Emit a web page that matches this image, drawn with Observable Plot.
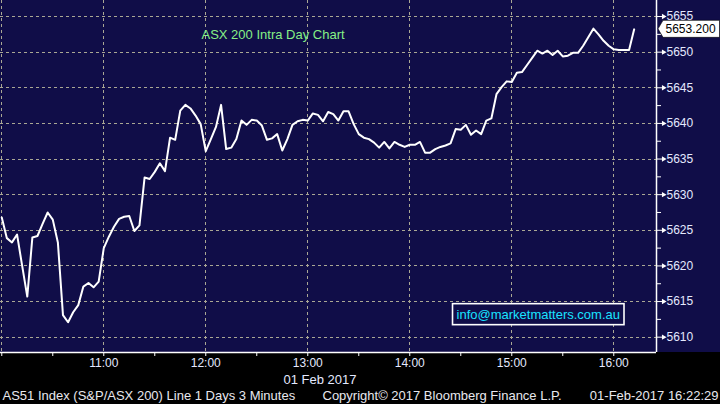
<!DOCTYPE html>
<html>
<head>
<meta charset="utf-8">
<script src="https://cdn.jsdelivr.net/npm/d3@7"></script>
<script src="https://cdn.jsdelivr.net/npm/@observablehq/plot@0.6"></script>
<style>
  html, body { margin: 0; padding: 0; background: #000; }
  #chart svg { display: block; }
</style>
</head>
<body>
<div id="chart"></div>
<script>
// ---- chart text ----
const chartTitle = "ASX 200 Intra Day Chart";
const contactText = "info@marketmatters.com.au";
const dateLabel = "01 Feb 2017";
const footerLeft = "AS51 Index (S&P/ASX 200) Line 1 Days 3 Minutes";
const footerMid = "Copyright\u00A9 2017 Bloomberg Finance L.P.";
const footerRight = "01-Feb-2017 16:22:29";

// ---- data: 3-minute closes of the S&P/ASX 200, 01 Feb 2017 ----
const sessionDate = "2017-02-01";
const firstBarTime = "10:00";
const barMinutes = 3;
const closes = [
  5626.8, 5623.9, 5623.3, 5624.4, 5620.0, 5615.7, 5624.0, 5624.2, 5625.9, 5627.5,
  5626.5, 5623.3, 5613.1, 5612.1, 5613.5, 5614.5, 5617.1, 5617.6, 5617.0, 5617.8,
  5622.5, 5624.1, 5625.5, 5626.6, 5626.9, 5627.0, 5624.9, 5625.7, 5632.4, 5632.2,
  5633.2, 5634.4, 5633.3, 5638.0, 5637.7, 5641.8, 5642.6, 5642.1, 5641.1, 5639.9,
  5636.1, 5637.8, 5639.5, 5642.6, 5636.4, 5636.6, 5637.8, 5640.4, 5639.8, 5640.5,
  5640.4, 5639.7, 5637.7, 5637.9, 5638.5, 5636.2, 5637.8, 5639.8, 5640.3, 5640.5,
  5640.4, 5641.4, 5641.2, 5640.3, 5641.6, 5641.3, 5640.4, 5641.7, 5641.7, 5639.9,
  5638.5, 5638.0, 5637.8, 5637.3, 5636.6, 5637.4, 5636.5, 5637.4, 5637.0, 5636.7,
  5637.0, 5637.0, 5637.4, 5635.9, 5635.9, 5636.4, 5636.7, 5636.9, 5637.2, 5639.2,
  5639.1, 5639.8, 5638.4, 5639.0, 5638.5, 5640.4, 5640.7, 5644.1, 5645.1, 5645.9,
  5645.8, 5647.1, 5647.2, 5648.2, 5649.2, 5650.2, 5649.8, 5650.2, 5649.6, 5650.2,
  5649.4, 5649.5, 5649.9, 5649.9, 5650.9, 5652.1, 5653.3, 5652.5, 5651.6, 5650.9,
  5650.4, 5650.3, 5650.3, 5650.3, 5653.2
];
const lastPrice = 5653.2;

// ---- axes ----
const yTicks = [5610, 5615, 5620, 5625, 5630, 5635, 5640, 5645, 5650, 5655];
const yMinorTicks = [5612.5, 5617.5, 5622.5, 5627.5, 5632.5, 5637.5, 5642.5, 5647.5, 5652.5];
const yDomain = [5607.85, 5657.25];
const xTickLabels = ["11:00", "12:00", "13:00", "14:00", "15:00", "16:00"];
const xGridTimes = ["10:00", "11:00", "12:00", "13:00", "14:00", "15:00", "16:00"];
const xMinorTimes = ["10:00", "10:30", "11:00", "11:30", "12:00", "12:30", "13:00", "13:30",
                     "14:00", "14:30", "15:00", "15:30", "16:00"];
const xDomainTimes = ["09:59:15", "16:25:08"];

const toDate = (hm) => new Date(`${sessionDate}T${hm.length === 5 ? hm + ":00" : hm}Z`);
const t0 = toDate(firstBarTime).getTime();
const data = closes.map((c, i) => ({ time: new Date(t0 + i * barMinutes * 60000), close: c }));
const xDomain = xDomainTimes.map(toDate);
const xEnd = xDomain[1];

const navy = "#100d48";
const fg = "#e4e9ff";
const gridColor = "#aaa794";
const font = "'Liberation Sans', Arial, sans-serif";

const chart = Plot.plot({
  width: 720,
  height: 404,
  marginTop: 0,
  marginLeft: 0,
  marginRight: 64,
  marginBottom: 52,
  style: { background: "#000", color: fg, fontFamily: font, fontSize: "12px" },
  x: { type: "utc", domain: xDomain },
  y: { domain: yDomain },
  marks: [
    Plot.line(data, { x: "time", y: "close", stroke: "#ffffff", strokeWidth: 2 }),
    Plot.ruleY([yDomain[0]], { stroke: "#ffffff", strokeWidth: 1.5 }),
    Plot.ruleX([xEnd], { stroke: "#ffffff", strokeWidth: 1.5 }),
    Plot.axisX(xMinorTimes.map(toDate), { tickSize: 4, tickFormat: () => "", stroke: "#ffffff", label: null }),
    Plot.axisX(xTickLabels.map(toDate), { tickSize: 0, tickPadding: 6, tickFormat: d3.utcFormat("%H:%M"), fontSize: 12, fill: fg, label: null }),
    Plot.axisY(yTicks, { anchor: "right", tickSize: 7, tickPadding: 3, tickFormat: d3.format("d"), fontSize: 12, stroke: "#ffffff", fill: fg, label: null }),
    Plot.axisY(yMinorTicks, { anchor: "right", tickSize: 4, tickFormat: () => "", stroke: "#ffffff", label: null }),
    Plot.dot(yTicks, { x: () => xEnd, y: (d) => d, symbol: "triangle", rotate: 90, r: 2, fill: "#ffffff", stroke: "none", dx: 7 }),
    Plot.text([chartTitle], { frameAnchor: "top-left", lineAnchor: "middle", dx: 201, dy: 34.5, textAnchor: "start", fill: "#86f086", fontSize: 13 }),
    Plot.text([contactText], { frameAnchor: "bottom-right", lineAnchor: "middle", dx: -36.5, dy: -38, textAnchor: "end", fill: "#19e3ff", fontSize: 13 }),
    Plot.text([dateLabel], { frameAnchor: "bottom", lineAnchor: "middle", dx: -8.5, dy: 27, fill: fg, fontSize: 13 }),
    Plot.text([footerLeft], { frameAnchor: "bottom-left", lineAnchor: "middle", dx: 2, dy: 43.5, textAnchor: "start", fill: "#e8e8ee", fontSize: 13 }),
    Plot.text([footerMid], { frameAnchor: "bottom-left", lineAnchor: "middle", dx: 322, dy: 43.5, textAnchor: "start", fill: "#e8e8ee", fontSize: 13 }),
    Plot.text([footerRight], { frameAnchor: "bottom-right", lineAnchor: "middle", dx: 62, dy: 43.5, textAnchor: "end", fill: "#e8e8ee", fontSize: 13 })
  ]
});

document.getElementById("chart").appendChild(chart);
const svg = d3.select(chart);
const xs = chart.scale("x"), ys = chart.scale("y");

// navy panel behind the plot and the right axis
const panelBottom = ys.apply(yDomain[0]);
const panel = svg.insert("rect", ":first-child")
  .attr("x", 0).attr("y", 0).attr("width", 720).attr("height", panelBottom)
  .attr("fill", navy);

// dotted grid lines, positioned through the plot's scales
const plotRight = xs.apply(xEnd);
const dash = 3, gap = 3;
const gridG = svg.insert("g", () => panel.node().nextSibling).attr("fill", gridColor);
yTicks.forEach((v) => {
  const y = Math.round(ys.apply(v));
  for (let px = 0; px < plotRight; px += dash + gap) {
    gridG.append("rect").attr("x", px).attr("y", y).attr("width", Math.min(dash, plotRight - px)).attr("height", 1);
  }
});
xGridTimes.map(toDate).forEach((t) => {
  const x = Math.round(xs.apply(t));
  for (let py = 0; py < panelBottom; py += dash + gap) {
    gridG.append("rect").attr("x", x).attr("y", py).attr("width", 1).attr("height", Math.min(dash, panelBottom - py));
  }
});

// box around the contact text
svg.selectAll("text").filter(function () { return this.textContent === contactText; }).each(function () {
  const b = this.getBBox();
  const node = this;
  d3.select(this.parentNode).insert("rect", () => node)
    .attr("transform", node.getAttribute("transform"))
    .attr("x", b.x - 4).attr("y", b.y - 3)
    .attr("width", b.width + 8).attr("height", b.height + 6)
    .attr("fill", navy).attr("stroke", "#ffffff").attr("stroke-width", 1.6);
});

// last value tag on the right axis
const tipX = plotRight + 2;
const tipY = ys.apply(lastPrice);
const h = 8.5;
svg.append("path")
  .attr("d", `M${tipX},${tipY} L${tipX + 5},${tipY - h} L719.5,${tipY - h} L719.5,${tipY + h} L${tipX + 5},${tipY + h} Z`)
  .attr("fill", "#ffffff").attr("stroke", "#000").attr("stroke-width", 0.6);
svg.append("text")
  .attr("x", tipX + 7.5).attr("y", tipY).attr("dy", "0.35em")
  .attr("text-anchor", "start")
  .attr("font-family", font).attr("font-size", 12).attr("fill", "#000")
  .text(lastPrice.toFixed(3));
</script>
</body>
</html>
